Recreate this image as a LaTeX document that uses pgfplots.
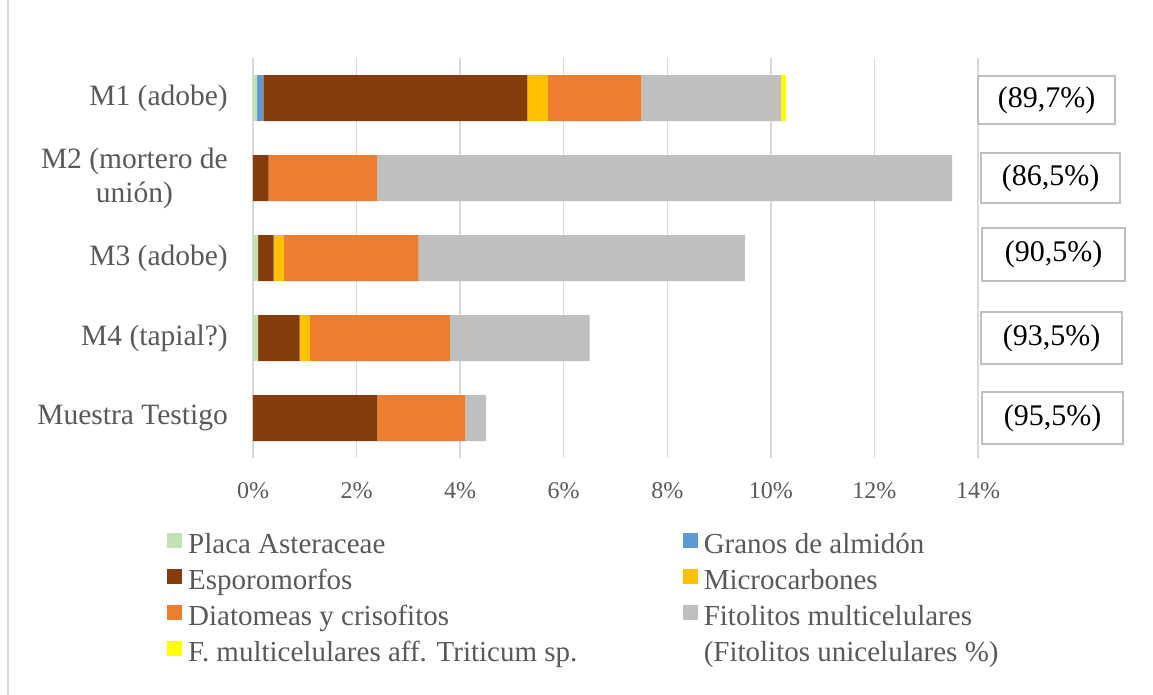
\documentclass[border=0pt]{standalone}
\usepackage{fontspec}
\setmainfont{Liberation Serif}
\usepackage{pgfplots}
\pgfplotsset{compat=1.18}
\definecolor{cPlaca}{HTML}{C5E0B4}
\definecolor{cGranos}{HTML}{5B9BD5}
\definecolor{cEsporo}{HTML}{843C0C}
\definecolor{cMicro}{HTML}{FFC000}
\definecolor{cDiat}{HTML}{ED7D31}
\definecolor{cFito}{HTML}{BFBFBF}
\definecolor{cTrit}{HTML}{FFFF00}
\definecolor{txt}{HTML}{595959}
\definecolor{gridc}{HTML}{D9D9D9}
\begin{document}
\begin{tikzpicture}
\path[use as bounding box] (-253pt,-237pt) rectangle (900pt,458pt);
\draw[gridc, line width=1.5pt] (-245pt,-237pt) -- (-245pt,458pt);
\begin{axis}[
  xbar stacked, scale only axis, width=725pt, height=400pt,
  xmin=0, xmax=14, ymin=-0.5, ymax=4.5,
  bar width=46pt,
  xtick={0,2,...,14}, ytick={0,1,2,3,4},
  yticklabels={Muestra Testigo, M4 (tapial?), M3 (adobe), {M2 (mortero de\\unión)}, M1 (adobe)},
  xticklabel={\pgfmathprintnumber{\tick}\%},
  /pgf/number format/assume math mode=true,
  xmajorgrids, major grid style={draw=gridc, line width=1.5pt},
  axis line style={draw=none},
  major tick length=0pt, tick style={draw=none},
  yticklabel style={font=\fontsize{29.5}{34}\selectfont, text=txt, align=center, inner sep=0pt, xshift=-25pt},
  xticklabel style={font=\fontsize{24}{28}\selectfont, text=txt, inner sep=0pt, yshift=-24pt},
  clip=false,
  legend columns=2,
  legend cell align=left,
  legend image code/.code={\fill[#1] (0pt,-1.5pt) rectangle (15pt,13.5pt);},
  legend style={at={(axis description cs:-0.1186,-0.185)}, anchor=north west, draw=none, fill=none,
    inner sep=0pt, font=\fontsize{29}{33}\selectfont, text=txt,
    nodes={inner ysep=1pt, inner xsep=2pt, text height=20pt, text depth=7pt},
    row sep=7pt,
    /tikz/every odd column/.append style={column sep=4pt},
    /tikz/every even column/.append style={column sep=103pt}},
]
\addplot[fill=cPlaca, draw=none] coordinates {(0.08,4) (0,3) (0.1,2) (0.1,1) (0,0)};
\addlegendentry{Placa Asteraceae}
\addplot[fill=cGranos, draw=none] coordinates {(0.12,4) (0,3) (0,2) (0,1) (0,0)};
\addlegendentry{Granos de almidón}
\addplot[fill=cEsporo, draw=none] coordinates {(5.1,4) (0.3,3) (0.3,2) (0.8,1) (2.4,0)};
\addlegendentry{Esporomorfos}
\addplot[fill=cMicro, draw=none] coordinates {(0.4,4) (0,3) (0.2,2) (0.2,1) (0,0)};
\addlegendentry{Microcarbones}
\addplot[fill=cDiat, draw=none] coordinates {(1.8,4) (2.1,3) (2.6,2) (2.7,1) (1.7,0)};
\addlegendentry{Diatomeas y crisofitos}
\addplot[fill=cFito, draw=none] coordinates {(2.7,4) (11.1,3) (6.3,2) (2.7,1) (0.4,0)};
\addlegendentry{Fitolitos multicelulares}
\addplot[fill=cTrit, draw=none] coordinates {(0.1,4) (0,3) (0,2) (0,1) (0,0)};
\addlegendentry{F. multicelulares aff. Triticum sp.}
\addlegendimage{white, fill=white, draw=white}
\addlegendentry{(Fitolitos unicelulares \%)}
\end{axis}
\begin{scope}[every node/.style={draw=cFito, line width=1.2pt, inner sep=0pt, font=\fontsize{30}{36}\selectfont, text=black}]
\node[minimum width=137pt, minimum height=48pt] at (793.5pt,358pt) {(89,7\%)};
\node[minimum width=139pt, minimum height=50pt] at (797.5pt,280pt) {(86,5\%)};
\node[minimum width=143pt, minimum height=53pt] at (800.5pt,203.5pt) {(90,5\%)};
\node[minimum width=141pt, minimum height=52pt] at (798.5pt,120pt) {(93,5\%)};
\node[minimum width=141pt, minimum height=52pt] at (799.5pt,40pt) {(95,5\%)};
\end{scope}
\end{tikzpicture}
\end{document}
